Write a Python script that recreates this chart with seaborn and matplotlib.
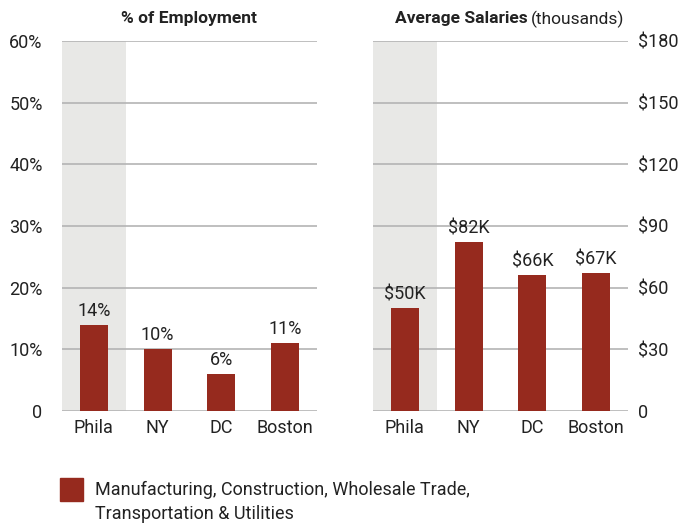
import matplotlib
matplotlib.use("Agg")
import matplotlib.pyplot as plt
import seaborn as sns
import pandas as pd
from matplotlib.patches import Rectangle
from matplotlib import font_manager

cities = ["Phila", "NY", "DC", "Boston"]
employment_pct = [14, 10, 6, 11]
salaries_k = [50, 82, 66, 67]
emp_ticks = [0, 10, 20, 30, 40, 50, 60]
emp_tick_labels = ["0", "10%", "20%", "30%", "40%", "50%", "60%"]
sal_ticks = [0, 30, 60, 90, 120, 150, 180]
sal_tick_labels = ["0", "$30", "$60", "$90", "$120", "$150", "$180"]
legend_label = "Manufacturing, Construction, Wholesale Trade,\nTransportation & Utilities"

sns.set_theme(style="white")
names = {f.name for f in font_manager.fontManager.ttflist}
fam = "Liberation Sans Narrow" if "Liberation Sans Narrow" in names else "Roboto"
plt.rcParams["font.family"] = [fam, "DejaVu Sans"]

BAR = "#962a1e"
GRID = "#b4b4b4"
SHADE = "#e8e8e6"
TXT = "#222222"
FS = 13

df = pd.DataFrame({"city": cities, "emp": employment_pct, "sal": salaries_k})

fig = plt.figure(figsize=(6.9, 5.25), dpi=100)
ax1 = fig.add_axes([62/690, 1 - 411/525, 255/690, 370/525])
ax2 = fig.add_axes([373/690, 1 - 411/525, 255/690, 370/525])

def style(ax, ticks, labels, right=False):
    ax.axvspan(-0.5, 0.5, color=SHADE, zorder=0, lw=0)
    for t in ticks:
        ax.axhline(t, color=GRID, lw=1.2, zorder=1)
    ax.set_ylim(ticks[0], ticks[-1])
    ax.set_xlim(-0.5, 3.5)
    ax.set_yticks(ticks)
    ax.set_yticklabels(labels)
    for s in ax.spines.values():
        s.set_visible(False)
    ax.set_xlabel("")
    ax.set_ylabel("")
    ax.tick_params(axis="both", length=0, labelsize=FS, colors=TXT)
    ax.tick_params(axis="x", pad=6)
    if right:
        ax.yaxis.tick_right()
        ax.tick_params(axis="y", pad=7)
    else:
        ax.tick_params(axis="y", pad=14)

sns.barplot(data=df, x="city", y="emp", color=BAR, saturation=1, width=0.44,
            linewidth=0, edgecolor=BAR, ax=ax1, zorder=3)
sns.barplot(data=df, x="city", y="sal", color=BAR, saturation=1, width=0.44,
            linewidth=0, edgecolor=BAR, ax=ax2, zorder=3)
style(ax1, emp_ticks, emp_tick_labels)
style(ax2, sal_ticks, sal_tick_labels, right=True)

for i, v in enumerate(employment_pct):
    ax1.text(i, v + 0.8, f"{v}%", ha="center", va="bottom", fontsize=FS, color=TXT)
for i, v in enumerate(salaries_k):
    ax2.text(i, v + 2.4, f"${v}K", ha="center", va="bottom", fontsize=FS, color=TXT)

fig.text(189/690, 1 - 19/525, "% of Employment", ha="center", va="center",
         fontsize=12.5, fontweight="bold", color=TXT)
t1 = fig.text(395/690, 1 - 19/525, "Average Salaries", ha="left", va="center",
              fontsize=12.5, fontweight="bold", color=TXT)
fig.canvas.draw()
bb = t1.get_window_extent()
fig.text(bb.x1 / 690 + 3/690, 1 - 19/525, "(thousands)", ha="left", va="center",
         fontsize=12.5, color=TXT)

fig.patches.append(Rectangle((60/690, 1 - 501/525), 23/690, 23/525,
                             transform=fig.transFigure, color=BAR))
fig.text(95/690, 1 - 502/525, legend_label, ha="left", va="center",
         fontsize=FS, color=TXT, linespacing=1.4)

fig.savefig("out.png", dpi=100)
